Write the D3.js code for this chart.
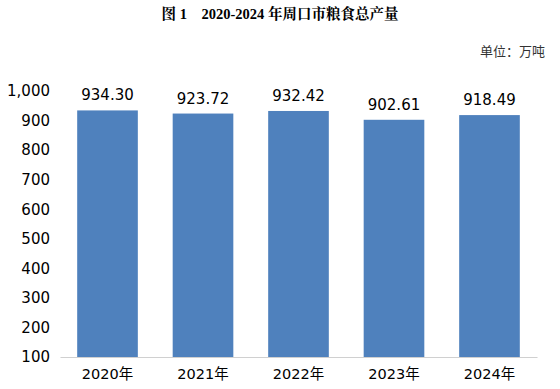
<!DOCTYPE html>
<html><head><meta charset="utf-8">
<script src="https://cdn.jsdelivr.net/npm/d3@7"></script>
<style>body{margin:0;background:#fff}</style>
</head><body>
<svg id="c" width="560" height="389"></svg>
<script>
const categories = ["2020年","2021年","2022年","2023年","2024年"];
const values = [934.30, 923.72, 932.42, 902.61, 918.49];
const valueLabels = ["934.30","923.72","932.42","902.61","918.49"];
const yTicks = [100,200,300,400,500,600,700,800,900,1000];
const title = "图 1　2020-2024 年周口市粮食总产量";
const unit = "单位：万吨";

const svg = d3.select("#c");
const m = {left:60, right:537, top:91, bottom:357};
const x = d3.scaleBand().domain(categories).range([m.left, m.right]).paddingInner(0.365).paddingOuter(0.18);
const y = d3.scaleLinear().domain([100,1000]).range([m.bottom, m.top]);

svg.append("text").attr("x",280).attr("y",19).attr("text-anchor","middle")
  .attr("font-family","'Liberation Serif','Noto Serif CJK SC','Noto Sans CJK SC',serif").attr("font-weight","bold").attr("font-size",14.5)
  .attr("fill","#000").text(title);
svg.append("text").attr("x",545).attr("y",56).attr("text-anchor","end")
  .attr("font-family","'Liberation Serif','Noto Sans CJK SC',serif").attr("font-size",13)
  .attr("fill","#333").text(unit);

const yAxis = d3.axisLeft(y).tickValues(yTicks).tickFormat(d3.format(",")).tickSize(0).tickPadding(10);
const ga = svg.append("g").attr("transform",`translate(${m.left},0)`).call(yAxis);
ga.select(".domain").remove();
ga.selectAll("text").attr("font-family","'DejaVu Sans',sans-serif").attr("font-size",15).attr("fill","#000");

svg.selectAll("rect.bar").data(values).join("rect").attr("class","bar")
  .attr("x",(d,i)=>x(categories[i])).attr("width",x.bandwidth())
  .attr("y",d=>y(d)).attr("height",d=>y(100)-y(d)).attr("fill","#4f81bd");

svg.selectAll("text.val").data(values).join("text").attr("class","val")
  .attr("x",(d,i)=>x(categories[i])+x.bandwidth()/2).attr("y",d=>y(d)-10)
  .attr("text-anchor","middle").attr("font-family","'DejaVu Sans',sans-serif").attr("font-size",15).attr("fill","#000")
  .text((d,i)=>valueLabels[i]);

const xAxis = d3.axisBottom(x).tickSize(0).tickPadding(12);
const gx = svg.append("g").attr("transform",`translate(0,${m.bottom})`).call(xAxis);
gx.select(".domain").attr("stroke","#d0d0d0").attr("stroke-width",1.2);
gx.selectAll("text").attr("font-family","'DejaVu Sans','Noto Sans CJK SC',sans-serif").attr("font-size",14.5).attr("fill","#000");
</script>
</body></html>
